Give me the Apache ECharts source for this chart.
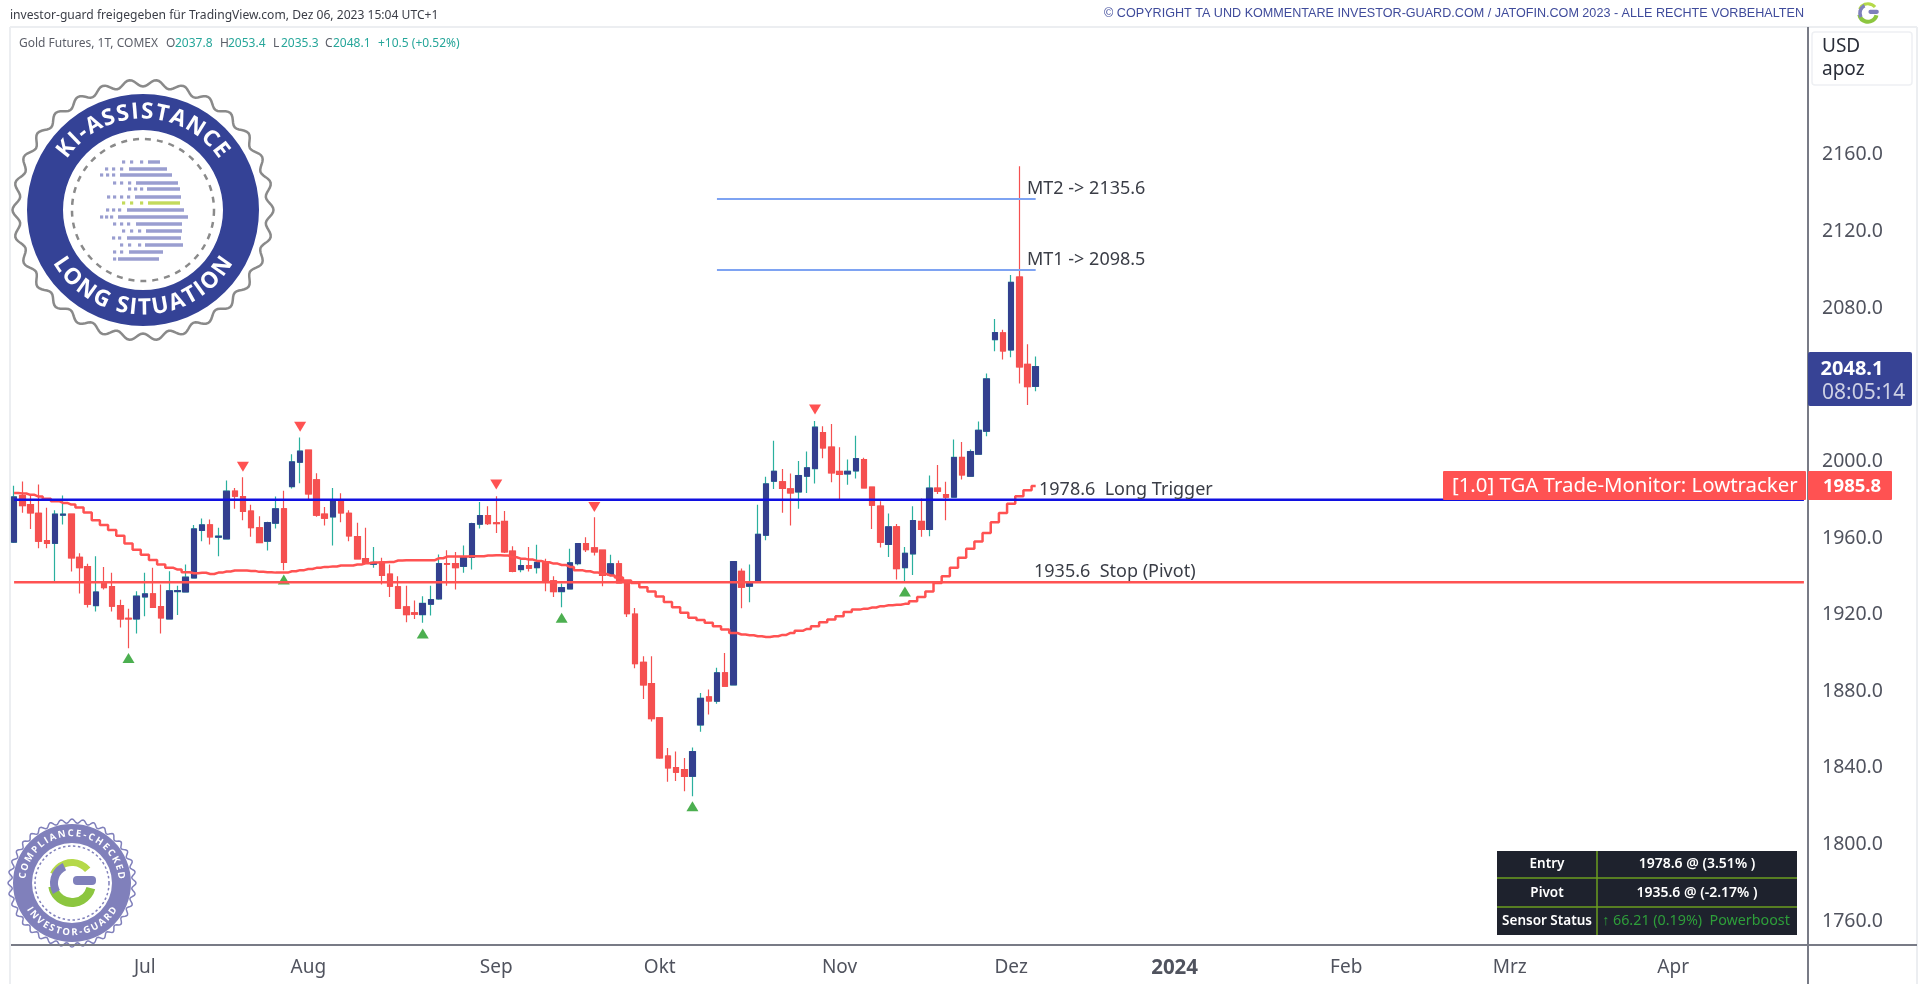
<!DOCTYPE html>
<html lang="de">
<head>
<meta charset="UTF-8" />
<title>Gold Futures, 1T, COMEX</title>
<script src="https://cdn.jsdelivr.net/npm/echarts@6/dist/echarts.min.js"></script>
<style>
  html, body { margin: 0; padding: 0; background: #fff; }
  #chart { width: 1920px; height: 984px; }
</style>
</head>
<body>
<div id="chart"></div>
<script>
// daily candles
var opens = [1956.5,1980.8,1976.1,1971.6,1957.3,1955.9,1970.6,1971.1,1948.6,1943.8,
  1923.4,1935.9,1933.3,1923.4,1916.8,1916.4,1927.9,1929.5,1922.9,1916.4,
  1930.7,1930.5,1937.8,1962.6,1965.5,1959.1,1958.2,1983.1,1980.3,1972.7,
  1964.0,1957.0,1966.4,1973.9,1985.5,1998.2,2004.5,1989.0,1971.1,1969.7,
  1978.6,1971.6,1959.4,1947.9,1945.0,1946.0,1939.8,1933.2,1922.7,1919.6,
  1918.7,1924.1,1926.9,1945.3,1945.3,1943.9,1948.5,1965.9,1970.4,1966.6,
  1967.3,1951.8,1942.2,1944.3,1943.2,1946.0,1936.3,1930.7,1932.1,1945.3,
  1955.8,1953.5,1952.3,1939.4,1945.2,1936.3,1918.9,1893.8,1882.7,1864.8,
  1844.9,1838.8,1837.8,1834.3,1861.1,1875.7,1873.5,1888.3,1882.0,1941.3,
  1933.5,1936.3,1960.1,1988.3,1988.0,1984.3,1982.7,1990.9,1994.9,2013.7,
  2006.1,1993.4,1992.1,1993.7,1999.6,1985.2,1975.3,1955.3,1964.5,1943.2,
  1950.4,1967.3,1963.1,1984.7,1981.3,1980.0,2000.7,1990.9,2002.4,2014.4,
  2062.2,2065.7,2056.8,2094.9,2049.3,2037.8];
var closes = [1980.1,1975.6,1971.8,1957.0,1955.8,1971.1,1971.1,1948.3,1943.2,1924.1,
  1930.5,1932.8,1923.1,1916.4,1916.4,1928.3,1929.5,1922.5,1917.0,1931.1,
  1931.2,1938.2,1963.4,1965.5,1959.3,1959.6,1983.1,1980.5,1972.5,1964.1,
  1956.3,1966.7,1973.9,1946.0,1998.4,2004.0,1981.7,1970.6,1969.0,1978.7,
  1971.8,1959.8,1947.8,1945.7,1945.9,1939.1,1933.5,1922.0,1918.7,1918.9,
  1924.5,1926.5,1945.3,1945.0,1943.2,1948.5,1966.2,1970.4,1966.2,1966.2,
  1951.4,1941.3,1944.3,1942.9,1945.9,1936.1,1930.7,1932.8,1945.7,1955.8,
  1952.6,1951.4,1939.1,1945.2,1935.2,1919.2,1893.1,1882.0,1864.4,1843.9,
  1838.7,1836.4,1834.3,1847.2,1875.0,1873.6,1888.3,1881.3,1946.4,1933.0,
  1935.9,1960.6,1986.9,1993.5,1984.5,1982.2,1991.3,1995.3,2016.5,2005.7,
  1992.7,1991.8,1993.5,2000.1,1984.8,1975.8,1956.5,1964.5,1942.7,1950.7,
  1967.8,1963.1,1984.7,1983.1,1980.0,2000.7,1991.6,2003.8,2014.9,2041.7,
  2065.9,2056.3,2092.1,2048.0,2037.7,2048.1];
var lows = [1956.1,1971.8,1963.4,1953.3,1953.3,1936.1,1965.7,1941.2,1929.7,1922.4,
  1920.3,1931.8,1920.3,1911.9,1901.1,1908.8,1917.8,1922.2,1908.8,1916.1,
  1918.5,1930.4,1937.7,1957.0,1955.3,1949.2,1958.0,1973.9,1968.0,1959.3,
  1955.9,1952.1,1963.6,1941.8,1984.5,1987.3,1978.7,1969.7,1965.2,1954.7,
  1966.9,1957.0,1947.4,1945.3,1943.1,1934.4,1927.9,1921.7,1914.7,1916.4,
  1914.4,1918.2,1926.5,1933.8,1931.8,1940.5,1942.2,1963.6,1965.5,1961.3,
  1950.9,1940.8,1940.8,1941.2,1940.1,1930.9,1927.9,1922.5,1931.9,1944.5,
  1951.4,1949.5,1933.5,1938.7,1934.9,1917.5,1890.7,1874.7,1862.9,1843.4,
  1831.5,1831.9,1826.5,1823.9,1857.6,1866.5,1872.1,1881.3,1882.0,1922.0,
  1925.2,1936.3,1957.5,1984.3,1971.8,1965.2,1973.9,1982.2,1987.1,2000.3,
  1987.8,1978.7,1986.4,1989.7,1984.7,1963.4,1953.7,1948.8,1937.0,1936.1,
  1939.4,1959.3,1959.6,1981.7,1968.0,1979.8,1989.2,1990.9,2002.2,2011.8,
  2056.1,2051.8,2053.0,2039.3,2028.1,2035.3];
var highs = [1986.0,1988.1,1981.3,1986.6,1974.4,1973.2,1980.8,1971.3,1950.7,1945.2,
  1949.2,1943.6,1940.5,1926.5,1921.7,1930.9,1940.5,1943.1,1934.4,1941.3,
  1933.8,1944.8,1965.5,1968.8,1968.3,1964.0,1988.7,1984.8,1990.4,1976.0,
  1970.0,1967.1,1980.3,1983.3,2002.4,2011.1,2004.5,1992.5,1974.9,1984.8,
  1982.0,1973.2,1966.6,1964.0,1954.0,1948.3,1944.8,1938.7,1933.8,1926.0,
  1928.3,1933.8,1950.0,1952.3,1951.3,1954.7,1966.6,1977.5,1975.3,1980.5,
  1972.7,1954.4,1947.8,1954.0,1955.1,1947.8,1938.7,1934.9,1953.0,1956.1,
  1959.1,1969.5,1952.5,1949.9,1946.9,1936.6,1922.2,1897.0,1897.0,1865.1,
  1849.1,1847.2,1843.9,1849.3,1877.8,1879.6,1890.9,1898.7,1946.4,1942.7,
  1944.8,1976.0,1990.6,2009.4,1994.7,1992.3,1998.9,2003.8,2019.8,2017.0,
  2018.2,2006.1,1999.6,2012.1,2000.5,1985.2,1977.9,1971.4,1966.0,1954.0,
  1975.3,1979.3,1991.3,1996.8,1988.0,2010.1,2008.8,2004.8,2019.5,2044.5,
  2073.0,2067.4,2096.0,2152.7,2059.8,2053.4];

// stepped Lowtracker line
var tracker = [1982.2,1981.9,1981.2,1980.3,1979.1,1977.9,1977.0,1976.1,1974.6,1972.0,
  1968.0,1965.5,1962.9,1959.8,1955.8,1952.5,1949.9,1947.2,1944.8,1943.1,
  1942.2,1940.8,1940.3,1940.5,1939.9,1940.6,1941.2,1941.7,1941.7,1941.5,
  1941.0,1940.8,1940.6,1940.6,1941.3,1941.9,1942.5,1943.1,1943.6,1943.8,
  1944.3,1944.3,1944.8,1945.5,1945.9,1946.0,1946.2,1946.9,1947.1,1947.1,
  1947.1,1947.1,1948.1,1949.0,1949.0,1949.0,1949.2,1949.2,1949.5,1949.7,
  1949.5,1948.6,1947.9,1947.4,1946.7,1946.0,1945.3,1944.6,1943.6,1941.9,
  1941.3,1940.6,1939.9,1939.1,1938.0,1936.5,1935.2,1933.0,1930.7,1928.1,
  1925.3,1922.5,1919.6,1917.0,1915.9,1914.4,1912.6,1910.9,1909.1,1908.3,
  1907.9,1907.4,1907.0,1907.4,1908.1,1909.1,1910.2,1911.2,1912.6,1914.7,
  1916.1,1917.8,1920.0,1921.3,1921.8,1922.4,1923.1,1923.6,1923.8,1924.3,
  1925.7,1927.9,1930.7,1935.2,1938.7,1943.1,1948.3,1953.0,1956.8,1961.3,
  1966.9,1971.7,1976.6,1980.4,1983.6,1985.8];

// pivot markers
var pivotHighIdx = [28, 35, 59, 71, 98];
var pivotHighVal = [1995.8, 2016.7, 1986.6, 1974.9, 2025.7];
var pivotLowIdx = [14, 33, 50, 67, 83, 109];
var pivotLowVal = [1896.0, 1937.0, 1908.8, 1917.0, 1818.7, 1930.7];

var entryLevel = 1978.6;
var stopLevel = 1935.6;
var targetLevels = [2135.6, 2098.5];
var targetFrom = 86;
var targetTo = 125;

var yTicks = [1760, 1800, 1840, 1880, 1920, 1960, 2000, 2080, 2120, 2160];
var monthNames = ['Jul', 'Aug', 'Sep', 'Okt', 'Nov', 'Dez', '2024', 'Feb', 'Mrz', 'Apr'];
var monthIdx = [16, 36, 59, 79, 101, 122, 142, 163, 183, 203];
var dayCount = 220;

var categories = [];
for (var d = 0; d < dayCount; d++) {
  var m = monthIdx.indexOf(d);
  categories.push(m >= 0 ? monthNames[m] : 'd' + d);
}

var FONT = '"Noto Sans", sans-serif';
var UP_BODY = '#33408f';
var UP_WICK = '#2ab09e';
var DOWN = '#f55050';
var GRAY = '#50535e';

var wickData = [], bodyData = [];
opens.forEach(function (o, i) {
  wickData.push([o, closes[i], lows[i], highs[i]]);
  bodyData.push([o, closes[i], Math.min(o, closes[i]), Math.max(o, closes[i])]);
});

function pairs(idx, vals) {
  return idx.map(function (x, i) { return [x, vals[i]]; });
}

// ---- drawn decoration ----
var measure = document.createElement('canvas').getContext('2d');

function txt(x, y, text, size, color, extra) {
  var st = {
    text: text, fontSize: size, fill: color, fontFamily: FONT,
    verticalAlign: 'middle', align: 'left'
  };
  for (var k in extra) st[k] = extra[k];
  return { type: 'text', x: x, y: y, z: 100, silent: true, style: st };
}

function box(x, y, w, h, fill, r) {
  return {
    type: 'rect', z: 99, silent: true,
    shape: { x: x, y: y, width: w, height: h, r: r || 0 },
    style: { fill: fill }
  };
}

function line(x1, y1, x2, y2, color, w, z) {
  return {
    type: 'line', z: z || 1, silent: true,
    shape: { x1: x1, y1: y1, x2: x2, y2: y2 },
    style: { stroke: color, lineWidth: w }
  };
}

// one text element per letter, bent along a circle. top=true reads clockwise over the top
function arcText(str, cx, cy, r, arcDeg, top, size, color) {
  measure.font = 'bold ' + size + 'px "Open Sans"';
  var widths = str.split('').map(function (c) { return measure.measureText(c).width; });
  var total = widths.reduce(function (a, b) { return a + b; }, 0);
  var arcLen = arcDeg * Math.PI / 180 * r;
  var gap = (arcLen - total) / (str.length - 1);
  var pos = -arcLen / 2;
  var out = [];
  str.split('').forEach(function (c, i) {
    var a = (pos + widths[i] / 2) / r;
    out.push({
      type: 'text', z: 60, silent: true,
      x: cx + r * Math.sin(a),
      y: top ? cy - r * Math.cos(a) : cy + r * Math.cos(a),
      rotation: top ? -a : a,
      style: {
        text: c, fontSize: size, fontWeight: 'bold', fontFamily: '"Open Sans"',
        fill: color, align: 'center', verticalAlign: 'middle'
      }
    });
    pos += widths[i] + gap;
  });
  return out;
}

function scallop(cx, cy, r, amp, n, color, w) {
  var pts = [];
  for (var i = 0; i <= 360; i++) {
    var t = i * Math.PI / 180;
    var rr = r + amp * Math.cos(n * t);
    pts.push([cx + rr * Math.cos(t), cy + rr * Math.sin(t)]);
  }
  return {
    type: 'polygon', z: 50, silent: true, shape: { points: pts },
    style: { fill: '#fff', stroke: color, lineWidth: w }
  };
}

function ring(cx, cy, r, r0, fill) {
  return {
    type: 'ring', z: 51, silent: true,
    shape: { cx: cx, cy: cy, r: r, r0: r0 }, style: { fill: fill }
  };
}

function dashed(cx, cy, r, color, w, dash) {
  return {
    type: 'circle', z: 52, silent: true,
    shape: { cx: cx, cy: cy, r: r },
    style: { fill: 'none', stroke: color, lineWidth: w, lineDash: dash }
  };
}

function sector(cx, cy, r0, r, a0, a1, fill) {
  return {
    type: 'sector', z: 53, silent: true,
    shape: { cx: cx, cy: cy, r0: r0, r: r, startAngle: a0 * Math.PI / 180, endAngle: a1 * Math.PI / 180 },
    style: { fill: fill }
  };
}

function gLogo(cx, cy, s) {
  return [
    sector(cx, cy, 17 * s, 24 * s, 205, 320, '#b5d94a'),
    sector(cx, cy, 15 * s, 24 * s, 15, 170, '#8cc63f'),
    sector(cx, cy, 14 * s, 22 * s, 150, 245, '#7f80bb'),
    {
      type: 'rect', z: 54, silent: true,
      shape: { x: cx + 1 * s, y: cy - 7 * s, width: 23 * s, height: 9 * s, r: 4 * s },
      style: { fill: '#7f80bb' }
    }
  ];
}

// rows of the dotted head inside the big badge: y, bar start, bar end, dots
var headRows = [
  [162, 148, 160, [122, 130, 140]], [169, 129, 167, [105, 112, 120]],
  [175, 120, 172, [100, 106, 112]], [183, 136, 178, [113, 120, 128]],
  [189, 147, 180, [128, 134, 140]], [197, 135, 181, [107, 113, 120, 127]],
  [203, 148, 180, [122, 130, 140]], [210, 127, 184, [106, 112, 118]],
  [217, 118, 188, [100, 105, 110]], [224, 136, 182, [113, 120, 127]],
  [231, 146, 182, [122, 130, 138]], [238, 127, 181, [112, 118]],
  [245, 145, 183, [120, 128, 138]], [252, 129, 163, [113, 120]],
  [259, 118, 159, [113]]
];

var graphics = [
  // chart frame
  line(10, 27, 1917, 27, '#eceef1', 2),
  line(10, 27, 10, 984, '#eceef1', 2),
  line(1917, 27, 1917, 984, '#eceef1', 2),
  line(1808, 27, 1808, 984, '#787b86', 2, 90),
  line(11, 945, 1917, 945, '#787b86', 2, 90),
  // header
  txt(10, 16, 'investor-guard freigegeben für TradingView.com, Dez 06, 2023 15:04 UTC+1', 12.1, '#3a3d46'),
  txt(1804, 14, '© COPYRIGHT TA UND KOMMENTARE INVESTOR-GUARD.COM / JATOFIN.COM 2023 - ALLE RECHTE VORBEHALTEN', 12.6, '#3f4b9b',
    { align: 'right', fontFamily: '"Liberation Sans"' }),
  txt(19, 44, 'Gold Futures, 1T, COMEX', 12, '#5b5e68'),
  txt(166, 44, 'O', 12, '#5b5e68'), txt(175, 44, '2037.8', 12, '#26a69a'),
  txt(220, 44, 'H', 12, '#5b5e68'), txt(228, 44, '2053.4', 12, '#26a69a'),
  txt(273, 44, 'L', 12, '#5b5e68'), txt(281, 44, '2035.3', 12, '#26a69a'),
  txt(325, 44, 'C', 12, '#5b5e68'), txt(333, 44, '2048.1', 12, '#26a69a'),
  txt(378, 44, '+10.5 (+0.52%)', 12, '#26a69a'),
  // currency box
  {
    type: 'rect', z: 98, silent: true,
    shape: { x: 1812, y: 32, width: 100, height: 53, r: 3 },
    style: { fill: '#fff', stroke: '#eef0f3', lineWidth: 1.5 }
  },
  txt(1822, 47, 'USD', 19, '#2a2e39'),
  txt(1822, 70, 'apoz', 19, '#2a2e39'),
  // level labels
  txt(1027, 189, 'MT2 -> 2135.6', 18, '#3a3d46'),
  txt(1027, 260, 'MT1 -> 2098.5', 18, '#3a3d46'),
  txt(1039, 490, '1978.6  Long Trigger', 18, '#3a3d46'),
  txt(1034, 572, '1935.6  Stop (Pivot)', 18, '#3a3d46'),
  // price tags
  box(1808, 352, 104, 54, '#374395', 2),
  txt(1852, 369, '2048.1', 20, '#fff', { align: 'center', fontWeight: 'bold' }),
  txt(1822, 393, '08:05:14', 21, '#cdd0e4'),
  box(1443, 471, 363, 29, '#ff5252', 1),
  txt(1452, 486, '[1.0] TGA Trade-Monitor: Lowtracker', 20.4, '#fff'),
  box(1808, 471, 84, 29, '#ff5252', 1),
  txt(1823, 487, '1985.8', 18.5, '#fff', { fontWeight: 'bold' }),
  // status table
  box(1497, 851, 300, 84, '#1e222d'),
  line(1497, 878, 1797, 878, '#6b9e1f', 1.5, 100),
  line(1497, 907, 1797, 907, '#6b9e1f', 1.5, 100),
  line(1597, 851, 1597, 935, '#6b9e1f', 1.5, 100),
  txt(1547, 864, 'Entry', 13.5, '#fff', { align: 'center', fontWeight: 600 }),
  txt(1697, 864, '1978.6 @ (3.51% )', 14, '#fff', { align: 'center', fontWeight: 600 }),
  txt(1547, 893, 'Pivot', 13.5, '#fff', { align: 'center', fontWeight: 600 }),
  txt(1697, 893, '1935.6 @ (-2.17% )', 14, '#fff', { align: 'center', fontWeight: 600 }),
  txt(1547, 921, 'Sensor Status', 13.5, '#fff', { align: 'center', fontWeight: 600 }),
  txt(1696, 921, '↑ 66.21 (0.19%)  Powerboost', 14.3, '#2e9e3a', { align: 'center' }),
  // big badge
  scallop(143, 210, 127, 3.5, 30, '#8a8a8a', 2.5),
  ring(143, 210, 116, 80, '#344296'),
  dashed(143, 210, 71, '#8a8a8a', 2.5, [6, 6]),
  // small badge
  scallop(72, 883, 62, 2, 36, '#8080bb', 1.5),
  ring(72, 883, 59, 40, '#8080bb'),
  dashed(72, 883, 37, '#8080bb', 1.5, [2.5, 2.5])
];
graphics = graphics.concat(
  arcText('KI-ASSISTANCE', 143, 210, 98, 112, true, 22.5, '#fff'),
  arcText('LONG SITUATION', 143, 210, 98, 120, false, 22.5, '#fff'),
  arcText('COMPLIANCE-CHECKED', 72, 883, 49.5, 170, true, 9.5, '#fff'),
  arcText('INVESTOR-GUARD', 72, 883, 49.5, 120, false, 9.5, '#fff'),
  gLogo(72, 883, 1),
  gLogo(1868, 13, 0.45)
);
headRows.forEach(function (row) {
  var c = row[0] === 203 ? '#c3da5c' : '#9a9ed0';
  graphics.push({ type: 'rect', z: 53, silent: true,
    shape: { x: row[1], y: row[0] - 1.7, width: row[2] - row[1], height: 3.4 }, style: { fill: c } });
  row[3].forEach(function (x) {
    graphics.push({ type: 'rect', z: 53, silent: true,
      shape: { x: x, y: row[0] - 1.6, width: 3.2, height: 3.2 }, style: { fill: c } });
  });
});

var myChart = echarts.init(document.getElementById('chart'), null, { renderer: 'canvas' });
myChart.setOption({
  animation: false,
  backgroundColor: '#fff',
  textStyle: { fontFamily: FONT },
  grid: { left: 10, right: 112, top: 28, bottom: 39 },
  xAxis: {
    type: 'category',
    data: categories,
    boundaryGap: true,
    axisLine: { show: false },
    axisTick: { show: false },
    splitLine: { show: false },
    axisLabel: {
      interval: function (i) { return monthIdx.indexOf(i) >= 0; },
      hideOverlap: false,
      color: GRAY,
      fontSize: 19,
      margin: 13,
      formatter: function (v) { return v === '2024' ? '{b|2024}' : v; },
      rich: { b: { fontWeight: 'bold', fontSize: 20.5, color: GRAY, fontFamily: FONT } }
    }
  },
  yAxis: {
    type: 'value',
    position: 'right',
    min: 1746.25,
    max: 2224.85,
    axisLine: { show: false },
    axisTick: { show: false },
    splitLine: { show: false },
    axisLabel: {
      customValues: yTicks,
      margin: 14,
      formatter: function (v) { return '{t|' + v.toFixed(1) + '}'; },
      rich: { t: { color: GRAY, fontSize: 19.5, fontFamily: FONT, padding: [5, 0, 0, 0] } }
    }
  },
  series: [
    {
      name: 'wicks', type: 'candlestick', data: wickData, barWidth: 6,
      itemStyle: { color: UP_WICK, color0: DOWN, borderColor: UP_WICK, borderColor0: DOWN, borderWidth: 1.2 }
    },
    {
      name: 'bodies', type: 'candlestick', data: bodyData, barWidth: 6,
      itemStyle: { color: UP_BODY, color0: DOWN, borderColor: UP_BODY, borderColor0: DOWN, borderWidth: 1 }
    },
    {
      name: 'pivot low', type: 'scatter', data: pairs(pivotLowIdx, pivotLowVal),
      symbol: 'triangle', symbolSize: [12, 10], itemStyle: { color: '#4caf50', opacity: 1 }
    },
    {
      name: 'pivot high', type: 'scatter', data: pairs(pivotHighIdx, pivotHighVal),
      symbol: 'triangle', symbolRotate: 180, symbolSize: [12, 10], itemStyle: { color: '#ff5252', opacity: 1 }
    },
    {
      name: 'Lowtracker', type: 'line', data: tracker, step: 'middle', showSymbol: false,
      lineStyle: { color: '#ff5252', width: 2.5 }
    },
    {
      name: 'Long Trigger', type: 'line', data: pairs([0, dayCount - 1], [entryLevel, entryLevel]),
      showSymbol: false, lineStyle: { color: '#1010e0', width: 2.5 }
    },
    {
      name: 'Stop', type: 'line', data: pairs([0, dayCount - 1], [stopLevel, stopLevel]),
      showSymbol: false, lineStyle: { color: '#ff5252', width: 2.5 }
    },
    {
      name: 'MT2', type: 'line', data: pairs([targetFrom, targetTo], [targetLevels[0], targetLevels[0]]),
      showSymbol: false, lineStyle: { color: '#7ea3f2', width: 2 }
    },
    {
      name: 'MT1', type: 'line', data: pairs([targetFrom, targetTo], [targetLevels[1], targetLevels[1]]),
      showSymbol: false, lineStyle: { color: '#7ea3f2', width: 2 }
    }
  ],
  graphic: { elements: graphics }
});
</script>
</body>
</html>
